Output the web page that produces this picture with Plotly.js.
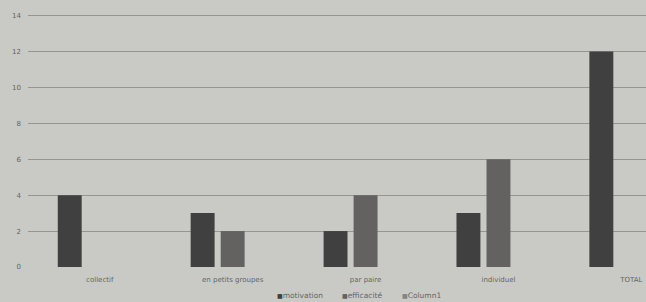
<!DOCTYPE html>
<html>
<head>
<meta charset="utf-8">
<script src="https://cdn.plot.ly/plotly-3.0.1.min.js"></script>
<style>
  html, body { margin: 0; padding: 0; background: #c9c9c5; }
  #chart { width: 646px; height: 302px; }
</style>
</head>
<body>
<div id="chart"></div>
<script>
const categories = ["collectif", "en petits groupes", "par paire", "individuel", "TOTAL"];
const seriesNames = ["motivation", "efficacité", "Column1"];
const motivation = [4, 3, 2, 3, 12];
const efficacite = [null, 2, 4, 6, null];
const column1 = [null, null, null, null, null];
const yTicks = [0, 2, 4, 6, 8, 10, 12, 14];

const colors = ["#414040", "#636261", "#858482"];
const offsets = [-0.316, -0.09, 0.136];
const values = [motivation, efficacite, column1];
const barW = 0.18;

const traces = seriesNames.map((name, i) => ({
  type: "bar",
  name: name,
  x: categories,
  y: values[i],
  width: barW,
  offset: offsets[i],
  marker: { color: colors[i] },
  hoverinfo: "none",
  showlegend: false
}));

// compact legend drawn as annotations (square + name), like the source chart
const legendX = [275, 340, 400];
const annotations = seriesNames.map((name, i) => ({
  xref: "paper", yref: "paper",
  x: (legendX[i] - 28) / 618, y: -(295 - 267) / 256,
  xanchor: "left", yanchor: "middle",
  showarrow: false,
  text: '<span style="color:' + colors[i] + ';font-size:6px">■</span>' + name,
  font: { size: 7.5, color: "#666666", family: "DejaVu Sans, sans-serif" }
}));

const layout = {
  width: 646, height: 302,
  margin: { l: 28, r: 0, t: 11, b: 35, autoexpand: false },
  paper_bgcolor: "#c9c9c5",
  plot_bgcolor: "#c9c9c5",
  barmode: "overlay",
  font: { family: "DejaVu Sans, sans-serif", size: 7, color: "#6a6a6a" },
  xaxis: {
    type: "category",
    range: [-0.54, 4.11],
    showgrid: false,
    zeroline: false,
    showline: false,
    ticks: "",
    ticklabelstandoff: 7,
    tickfont: { size: 7, color: "#666666" }
  },
  yaxis: {
    range: [0, 14.25],
    tickvals: yTicks,
    ticktext: yTicks.map(String),
    showgrid: true,
    gridcolor: "#959592",
    gridwidth: 1,
    zeroline: false,
    showline: false,
    ticks: "",
    ticklabelstandoff: 6,
    tickfont: { size: 7, color: "#666666" }
  },
  showlegend: false,
  annotations: annotations
};

Plotly.newPlot("chart", traces, layout, { displayModeBar: false, staticPlot: true });
</script>
</body>
</html>
